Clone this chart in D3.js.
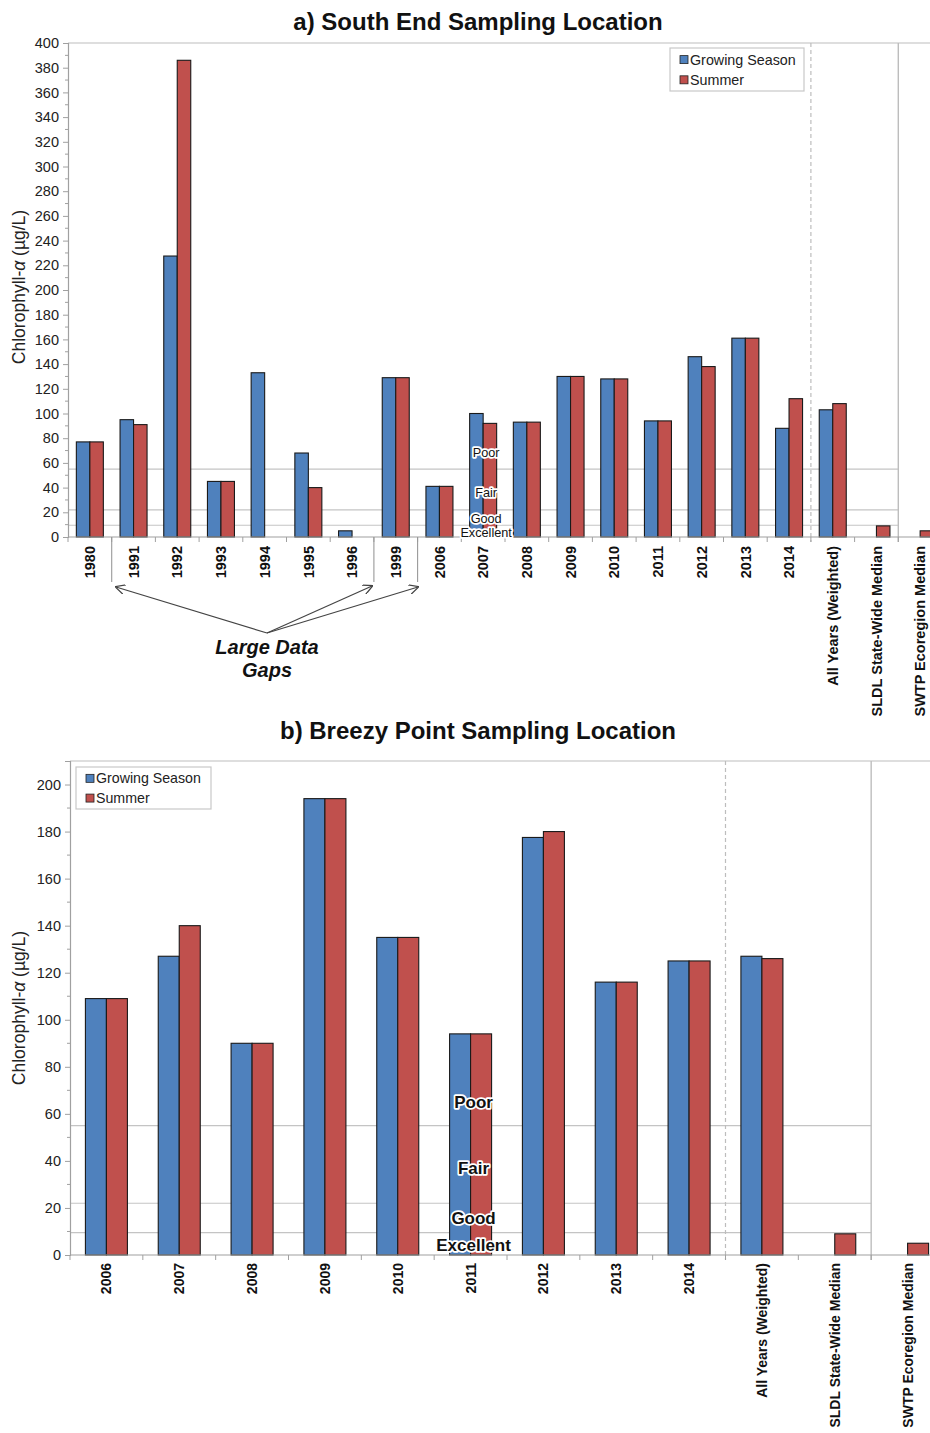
<!DOCTYPE html>
<html><head><meta charset="utf-8">
<script src="https://cdn.jsdelivr.net/npm/d3@7"></script>
<style>body{margin:0;background:#fff;} svg{display:block;font-family:Arial,"Liberation Sans",sans-serif;}</style>
</head><body>
<svg id="c" width="930" height="1433"></svg>
<script>
// ---------- DATA ----------
const catsA = ["1980","1991","1992","1993","1994","1995","1996","1999","2006","2007","2008","2009","2010","2011","2012","2013","2014","All Years (Weighted)","SLDL State-Wide Median","SWTP Ecoregion Median"];
const growA = [77,95,227.5,45,133,68,5,129,41,100,93,130,128,94,146,161,88,103,null,null];
const summA = [77,91,386,45,null,40,null,129,41,92,93,130,128,94,138,161,112,108,9,5];
const yTicksA = d3.range(0,401,20);

const catsB = ["2006","2007","2008","2009","2010","2011","2012","2013","2014","All Years (Weighted)","SLDL State-Wide Median","SWTP Ecoregion Median"];
const growB = [109,127,90,194,135,94,177.5,116,125,127,null,null];
const summB = [109,140,90,194,135,94,180,116,125,126,9,5];
const yTicksB = d3.range(0,201,20);

const thresholds = [55,22,9.5];
const condLabels = ["Poor","Fair","Good","Excellent"];
const seriesNames = ["Growing Season","Summer"];
const colors = ["#4f81bd","#c0504d"];

const svg = d3.select("#c");

function panel(o){
  const g = svg.append("g");
  const x = d3.scaleBand().domain(o.cats).range([o.x0,o.x1]);
  const y = d3.scaleLinear().domain([0,o.ymax]).range([o.y0,o.y1]);
  const inner = d3.scaleBand().domain([0,1]).range([0,o.pairW]);
  // title
  g.append("text").attr("x",478).attr("y",o.titleY).attr("text-anchor","middle")
    .attr("font-weight","bold").attr("font-size",24).attr("fill","#111").text(o.title);
  // top border
  g.append("line").attr("x1",o.x0).attr("x2",930).attr("y1",y(o.ymax)).attr("y2",y(o.ymax))
    .attr("stroke","#bdbdbd").attr("stroke-width",1.2);
  // threshold lines
  const xDash = x(o.cats[o.cats.length-3]);
  const xSolid = x(o.cats[o.cats.length-1]);
  thresholds.forEach(t=>{
    g.append("line").attr("x1",o.x0).attr("x2",xSolid).attr("y1",y(t)).attr("y2",y(t))
      .attr("stroke","#c4c4c4").attr("stroke-width",1.2);
  });
  // vertical separators
  g.append("line").attr("x1",xDash).attr("x2",xDash).attr("y1",y(o.ymax)).attr("y2",y(0)+5)
    .attr("stroke","#bdbdbd").attr("stroke-dasharray","4,3").attr("stroke-width",1.2);
  g.append("line").attr("x1",xSolid).attr("x2",xSolid).attr("y1",y(o.ymax)).attr("y2",y(0)+5)
    .attr("stroke","#bdbdbd").attr("stroke-width",1.4);
  // bars
  [o.grow,o.summ].forEach((vals,si)=>{
    g.selectAll(null).data(o.cats.map((c,i)=>({c,v:vals[i]})).filter(d=>d.v!=null))
      .enter().append("rect")
      .attr("x",d=>x(d.c)+(x.bandwidth()-o.pairW)/2+inner(si))
      .attr("width",inner.bandwidth())
      .attr("y",d=>y(d.v)).attr("height",d=>y(0)-y(d.v))
      .attr("fill",colors[si]).attr("stroke","#1a1a1a").attr("stroke-width",1.1);
  });
  // y axis
  const ya = d3.axisLeft(y).tickValues(o.yTicks).tickSize(5).tickPadding(4);
  const yg = g.append("g").attr("transform",`translate(${o.x0},0)`).call(ya);
  yg.select(".domain").attr("stroke","#a0a0a0").attr("stroke-width",1.2);
  yg.selectAll(".tick line").attr("stroke","#a0a0a0");
  yg.selectAll(".tick text").attr("font-size",o.yFont).attr("fill","#222").attr("font-family","Arial,'Liberation Sans',sans-serif");
  const minor = d3.range(10,o.ymax,20);
  g.selectAll(null).data(minor).enter().append("line")
    .attr("x1",o.x0-3).attr("x2",o.x0).attr("y1",d=>y(d)).attr("y2",d=>y(d)).attr("stroke","#a0a0a0");
  // x axis
  g.append("line").attr("x1",o.x0).attr("x2",930).attr("y1",y(0)).attr("y2",y(0))
    .attr("stroke","#a0a0a0").attr("stroke-width",1.2);
  g.selectAll(null).data(o.cats).enter().append("line")
    .attr("x1",d=>x(d)).attr("x2",d=>x(d)).attr("y1",y(0)).attr("y2",y(0)+5).attr("stroke","#a0a0a0");
  g.selectAll(null).data(o.cats).enter().append("text")
    .attr("transform",d=>`translate(${x(d)+x.bandwidth()/2+o.xFont*0.36},${y(0)+o.xOff}) rotate(-90)`)
    .attr("text-anchor","end").attr("font-weight","bold").attr("font-size",o.xFont).attr("fill","#111").text(d=>d);
  // y label
  const yl = g.append("text").attr("transform",`translate(${o.ylX},${o.ylY}) rotate(-90)`)
    .attr("text-anchor","middle").attr("font-size",o.ylFont).attr("fill","#222");
  yl.append("tspan").text("Chlorophyll-");
  yl.append("tspan").attr("font-style","italic").text("α");
  yl.append("tspan").text(" (µg/L)");
  // condition labels
  const cx = x(o.condCat)+x.bandwidth()/2+3;
  condLabels.forEach((l,i)=>{
    g.append("text").attr("x",cx).attr("y",o.condY[i]).attr("text-anchor","middle")
      .attr("font-size",o.condFont).attr("font-weight",o.condBold?"bold":"normal")
      .attr("fill","#111").attr("stroke","#fff").attr("stroke-width",3.5).attr("paint-order","stroke")
      .attr("stroke-linejoin","round").text(l);
  });
  // legend
  const lg = g.append("g");
  lg.append("rect").attr("x",o.leg[0]).attr("y",o.leg[1]).attr("width",o.leg[2]).attr("height",o.leg[3])
    .attr("fill","#fff").attr("stroke","#c8c8c8").attr("stroke-width",1.2);
  seriesNames.forEach((s,i)=>{
    const yy = o.leg[1]+o.leg[3]*(0.27+0.47*i);
    lg.append("rect").attr("x",o.leg[0]+10).attr("y",yy-o.sw/2).attr("width",o.sw).attr("height",o.sw)
      .attr("fill",colors[i]).attr("stroke","#222").attr("stroke-width",0.8);
    lg.append("text").attr("x",o.leg[0]+12+o.sw).attr("y",yy).attr("dy","0.36em")
      .attr("font-size",o.legFont).attr("fill","#222").text(s);
  });
  return {g,x,y};
}

const A = panel({cats:catsA,grow:growA,summ:summA,yTicks:yTicksA,ymax:400,
  x0:68,x1:942,y0:537,y1:43,pairW:27,title:"a) South End Sampling Location",titleY:30,
  yFont:14.5,xFont:14.5,xOff:9,ylX:25,ylY:287,ylFont:17.5,condCat:"2007",condY:[457,497,523,537],condFont:12.7,condBold:false,
  leg:[670,48,134,43],sw:8,legFont:14.3});

// Data gap separators and arrows
const gapBounds = [[0,1],[6,7],[7,8]];
const xa = A.x;
gapBounds.forEach(b=>{
  const xx = xa(catsA[b[1]]);
  A.g.append("line").attr("x1",xx).attr("x2",xx).attr("y1",537).attr("y2",582).attr("stroke","#999").attr("stroke-width",1.1);
});
svg.append("defs").append("marker").attr("id","arr").attr("viewBox","0 0 10 10").attr("refX",9).attr("refY",5)
  .attr("markerWidth",10).attr("markerHeight",10).attr("orient","auto").attr("markerUnits","userSpaceOnUse")
  .append("path").attr("d","M0,0 L10,5 L0,10").attr("fill","none").attr("stroke","#444").attr("stroke-width",1.3);
const tips = [[116,587],[372,586],[418,587]];
tips.forEach(t=>{
  A.g.append("line").attr("x1",267).attr("y1",633).attr("x2",t[0]).attr("y2",t[1])
    .attr("stroke","#444").attr("stroke-width",1.2).attr("marker-end","url(#arr)");
});
A.g.append("text").attr("x",267).attr("y",654).attr("text-anchor","middle").attr("font-weight","bold")
  .attr("font-style","italic").attr("font-size",20).attr("fill","#111").text("Large Data");
A.g.append("text").attr("x",267).attr("y",677).attr("text-anchor","middle").attr("font-weight","bold")
  .attr("font-style","italic").attr("font-size",20).attr("fill","#111").text("Gaps");

panel({cats:catsB,grow:growB,summ:summB,yTicks:yTicksB,ymax:210,
  x0:70,x1:944,y0:1255,y1:761,pairW:42,title:"b) Breezy Point Sampling Location",titleY:739,
  yFont:14.5,xFont:14,xOff:8,ylX:25,ylY:1008,ylFont:17.5,condCat:"2011",condY:[1108,1174,1224,1251],condFont:17,condBold:true,
  leg:[76,767,135,42],sw:8,legFont:14.2});
</script>
</body></html>
